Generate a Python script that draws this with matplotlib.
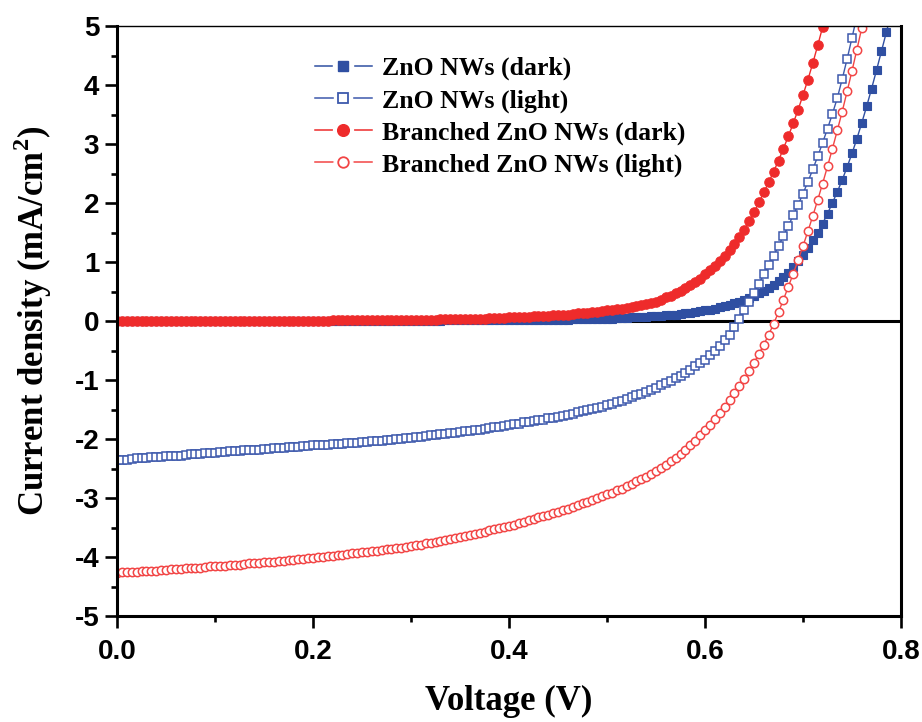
import numpy as np
import matplotlib
matplotlib.use("Agg")
import matplotlib.pyplot as plt
from matplotlib.ticker import MultipleLocator
from matplotlib.font_manager import FontProperties
from matplotlib.lines import Line2D
from matplotlib.legend_handler import HandlerTuple

plt.rcParams["axes.unicode_minus"] = False
plt.rcParams["font.family"] = "Liberation Sans"
plt.rcParams["font.weight"] = "bold"
plt.rcParams["mathtext.fontset"] = "custom"
plt.rcParams["mathtext.rm"] = "Liberation Serif:bold"
plt.rcParams["mathtext.bf"] = "Liberation Serif:bold"

# Voltage sweep: 0 to 0.8 V in 5 mV steps
voltage = np.round(np.arange(161) * 0.005, 3)

# Current density (mA/cm^2), one value per voltage step
zno_dark = [
    0.00, 0.00, 0.00, 0.00, 0.00, 0.00, 0.00, 0.00, 0.00, 0.00,
    0.00, 0.00, 0.00, 0.00, 0.00, 0.00, 0.00, 0.00, 0.00, 0.00,
    0.00, 0.00, 0.00, 0.00, 0.00, 0.00, 0.00, 0.00, 0.00, 0.00,
    0.00, 0.00, 0.00, 0.00, 0.00, 0.00, 0.00, 0.00, 0.00, 0.00,
    0.00, 0.00, 0.00, 0.00, 0.00, 0.00, 0.00, 0.00, 0.00, 0.00,
    0.00, 0.00, 0.00, 0.00, 0.00, 0.00, 0.00, 0.00, 0.00, 0.00,
    0.00, 0.00, 0.00, 0.00, 0.00, 0.00, 0.00, 0.01, 0.01, 0.01,
    0.01, 0.01, 0.01, 0.01, 0.01, 0.01, 0.01, 0.01, 0.01, 0.01,
    0.01, 0.01, 0.01, 0.01, 0.02, 0.02, 0.02, 0.02, 0.02, 0.02,
    0.02, 0.02, 0.02, 0.03, 0.03, 0.03, 0.03, 0.03, 0.04, 0.04,
    0.04, 0.04, 0.05, 0.05, 0.05, 0.06, 0.06, 0.07, 0.07, 0.08,
    0.08, 0.09, 0.10, 0.10, 0.11, 0.12, 0.13, 0.14, 0.15, 0.17,
    0.18, 0.19, 0.21, 0.23, 0.25, 0.27, 0.30, 0.32, 0.35, 0.39,
    0.43, 0.47, 0.51, 0.56, 0.61, 0.67, 0.74, 0.82, 0.91, 1.01,
    1.12, 1.24, 1.37, 1.50, 1.65, 1.82, 2.00, 2.19, 2.39, 2.61,
    2.84, 3.09, 3.36, 3.64, 3.94, 4.25, 4.57, 4.89, 5.22,
]

zno_light = [
    -2.36, -2.35, -2.35, -2.34, -2.33, -2.33, -2.32, -2.31, -2.31, -2.30,
    -2.29, -2.29, -2.28, -2.28, -2.27, -2.26, -2.26, -2.25, -2.24, -2.24,
    -2.23, -2.22, -2.22, -2.21, -2.21, -2.20, -2.19, -2.19, -2.18, -2.18,
    -2.17, -2.17, -2.16, -2.16, -2.15, -2.14, -2.14, -2.13, -2.12, -2.12,
    -2.11, -2.11, -2.10, -2.10, -2.09, -2.08, -2.08, -2.07, -2.07, -2.06,
    -2.05, -2.05, -2.04, -2.03, -2.03, -2.02, -2.01, -2.00, -2.00, -1.99,
    -1.98, -1.97, -1.96, -1.95, -1.94, -1.93, -1.92, -1.91, -1.90, -1.89,
    -1.88, -1.87, -1.86, -1.85, -1.84, -1.83, -1.81, -1.80, -1.79, -1.78,
    -1.76, -1.75, -1.74, -1.72, -1.71, -1.70, -1.68, -1.67, -1.65, -1.64,
    -1.62, -1.61, -1.59, -1.57, -1.55, -1.53, -1.51, -1.49, -1.47, -1.45,
    -1.42, -1.40, -1.37, -1.35, -1.32, -1.29, -1.26, -1.23, -1.20, -1.17,
    -1.13, -1.09, -1.05, -1.01, -0.97, -0.93, -0.88, -0.83, -0.77, -0.72,
    -0.66, -0.58, -0.50, -0.42, -0.33, -0.23, -0.11, 0.03, 0.18, 0.33,
    0.48, 0.63, 0.79, 0.95, 1.11, 1.27, 1.44, 1.61, 1.79, 1.97,
    2.16, 2.36, 2.57, 2.79, 3.02, 3.26, 3.51, 3.78, 4.10, 4.44,
    4.80, 5.17,
]

branched_dark = [
    0.00, 0.00, 0.00, 0.00, 0.00, 0.00, 0.00, 0.00, 0.00, 0.00,
    0.00, 0.00, 0.00, 0.00, 0.00, 0.00, 0.00, 0.00, 0.00, 0.00,
    0.00, 0.00, 0.00, 0.00, 0.00, 0.00, 0.00, 0.00, 0.00, 0.00,
    0.00, 0.00, 0.00, 0.00, 0.00, 0.00, 0.00, 0.00, 0.00, 0.00,
    0.00, 0.00, 0.00, 0.00, 0.01, 0.01, 0.01, 0.01, 0.01, 0.01,
    0.01, 0.01, 0.01, 0.01, 0.01, 0.01, 0.01, 0.02, 0.02, 0.02,
    0.02, 0.02, 0.02, 0.02, 0.02, 0.02, 0.03, 0.03, 0.03, 0.03,
    0.03, 0.03, 0.04, 0.04, 0.04, 0.04, 0.05, 0.05, 0.05, 0.05,
    0.06, 0.06, 0.06, 0.07, 0.07, 0.08, 0.08, 0.09, 0.09, 0.10,
    0.10, 0.11, 0.11, 0.12, 0.13, 0.13, 0.14, 0.15, 0.16, 0.17,
    0.18, 0.19, 0.20, 0.21, 0.22, 0.24, 0.25, 0.27, 0.28, 0.30,
    0.33, 0.36, 0.40, 0.43, 0.47, 0.51, 0.56, 0.61, 0.66, 0.72,
    0.79, 0.86, 0.94, 1.02, 1.11, 1.21, 1.31, 1.42, 1.55, 1.69,
    1.84, 2.01, 2.18, 2.35, 2.53, 2.72, 2.92, 3.13, 3.35, 3.58,
    3.83, 4.09, 4.37, 4.67, 4.98, 5.30,
]

branched_light = [
    -4.27, -4.26, -4.26, -4.25, -4.25, -4.24, -4.24, -4.23, -4.23, -4.22,
    -4.22, -4.21, -4.21, -4.20, -4.19, -4.19, -4.18, -4.18, -4.17, -4.16,
    -4.16, -4.15, -4.15, -4.14, -4.13, -4.13, -4.12, -4.11, -4.11, -4.10,
    -4.09, -4.08, -4.08, -4.07, -4.06, -4.05, -4.05, -4.04, -4.03, -4.02,
    -4.01, -4.00, -4.00, -3.99, -3.98, -3.97, -3.96, -3.95, -3.94, -3.93,
    -3.92, -3.91, -3.90, -3.89, -3.88, -3.87, -3.86, -3.85, -3.84, -3.83,
    -3.82, -3.80, -3.79, -3.77, -3.76, -3.74, -3.73, -3.71, -3.69, -3.68,
    -3.66, -3.64, -3.62, -3.61, -3.59, -3.57, -3.55, -3.53, -3.51, -3.49,
    -3.47, -3.45, -3.43, -3.40, -3.38, -3.36, -3.33, -3.31, -3.28, -3.26,
    -3.23, -3.20, -3.18, -3.15, -3.12, -3.09, -3.06, -3.03, -3.00, -2.97,
    -2.94, -2.91, -2.87, -2.84, -2.80, -2.76, -2.72, -2.68, -2.64, -2.59,
    -2.54, -2.49, -2.44, -2.38, -2.32, -2.26, -2.19, -2.11, -2.03, -1.94,
    -1.85, -1.76, -1.66, -1.56, -1.45, -1.34, -1.22, -1.10, -0.98, -0.85,
    -0.71, -0.56, -0.40, -0.23, -0.05, 0.15, 0.36, 0.58, 0.80, 1.03,
    1.27, 1.52, 1.78, 2.05, 2.33, 2.62, 2.92, 3.23, 3.55, 3.89,
    4.24, 4.60, 4.97, 5.35,
]

labels = [
    "ZnO NWs (dark)",
    "ZnO NWs (light)",
    "Branched ZnO NWs (dark)",
    "Branched ZnO NWs (light)",
]

blue = "#2F4FA2"
blue_open = "#3D59AC"
red = "#EE2B2B"
red_open = "#F24545"

series = [
    (zno_dark, blue, "s", 6.2, blue, 0.8),
    (zno_light, blue_open, "s", 5.6, "white", 1.1),
    (branched_dark, red, "o", 6.8, red, 0.8),
    (branched_light, red_open, "o", 6.0, "white", 1.1),
]

fig = plt.figure(figsize=(9.22, 7.22), dpi=100)
ax = fig.add_axes([117 / 922, 1 - 616 / 722, 784 / 922, 590 / 722])

ax.axhline(0, color="black", lw=2.2, zorder=1.5)

handles = []
for (values, color, marker, size, face, edge_w), label in zip(series, labels):
    ax.plot(voltage[:len(values)], values, color=color, lw=1.0,
            marker=marker, ms=size, mfc=face, mec=color, mew=edge_w)
    # legend key: thin line, white gap, then the symbol on top
    line = Line2D([], [], color=color, lw=1.1)
    gap = Line2D([], [], ls="none", marker=marker, ms=size + 7.5,
                 mfc="white", mec="white")
    symbol = Line2D([], [], ls="none", marker=marker, ms=size + 1.6,
                    mfc=face, mec=color, mew=edge_w + 0.2)
    handles.append((line, gap, symbol))

ax.set_xlim(0, 0.8)
ax.set_ylim(-5, 5)
ax.xaxis.set_major_locator(MultipleLocator(0.2))
ax.xaxis.set_minor_locator(MultipleLocator(0.1))
ax.yaxis.set_major_locator(MultipleLocator(1))
ax.yaxis.set_minor_locator(MultipleLocator(0.5))

ax.tick_params(which="major", direction="out", length=8.5, width=1.9,
               labelsize=20, colors="black")
ax.tick_params(which="minor", direction="out", length=4, width=1.9)
ax.tick_params(axis="x", which="major", pad=8)
ax.tick_params(axis="y", which="major", pad=4.3)
ax.tick_params(top=False, right=False, which="both")

for side in ["left", "bottom", "right"]:
    ax.spines[side].set_linewidth(2.2)
ax.spines["top"].set_linewidth(1.0)

serif = FontProperties(family="Liberation Serif", weight="bold", size=25)
ax.set_xlabel("Voltage (V)", fontproperties=serif)
ax.set_ylabel("Current density (mA/cm$^{\\mathbf{2}}$)", fontproperties=serif)
ax.xaxis.set_label_coords(0.5, -0.117)
ax.yaxis.set_label_coords(-0.080, 0.5)

ax.legend(handles, labels, handler_map={tuple: HandlerTuple(ndivide=1, pad=0)},
          loc="upper left", bbox_to_anchor=(315 / 922, 1 - 57 / 722),
          bbox_transform=fig.transFigure, frameon=False,
          prop=FontProperties(family="Liberation Serif", weight="bold", size=18.5),
          handlelength=2.2, handletextpad=0.4, labelspacing=0.34,
          borderpad=0, borderaxespad=0)

fig.savefig("out.png", dpi=100)
